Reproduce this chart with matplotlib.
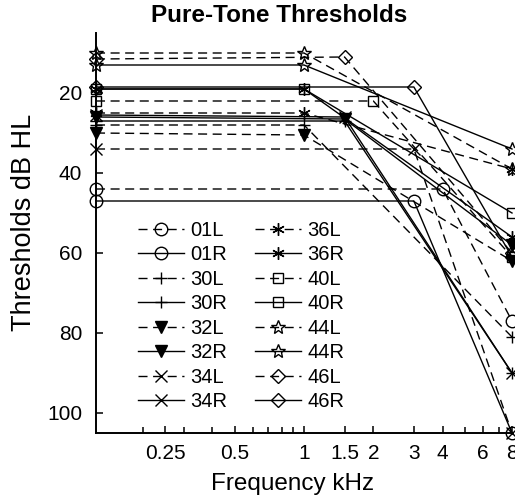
import matplotlib
matplotlib.use("Agg")
import matplotlib.pyplot as plt
import matplotlib.ticker as mticker
import numpy as np

# frequencies (kHz) at which thresholds were measured
FREQS = [0.125, 1, 1.5, 2, 3, 4, 8]
NA = np.nan

# thresholds (dB HL) per ear, NaN = not plotted
T_01L = [44, NA, NA, NA, NA, 44, 77]
T_01R = [47, NA, NA, NA, 47, NA, 105]
T_30L = [28, 28, NA, NA, NA, NA, 81]
T_30R = [27, NA, 27, NA, NA, NA, 90]
T_32L = [30, 30.5, NA, NA, NA, NA, 62]
T_32R = [26, NA, 26.5, NA, NA, NA, 58]
T_34L = [34, NA, NA, NA, 34, NA, 105]
T_34R = [25.5, NA, 26, NA, NA, NA, 90]
T_36L = [25, 25, NA, NA, NA, NA, 39]
T_36R = [19, 19, NA, NA, NA, NA, 56]
T_40L = [22, NA, NA, 22, NA, NA, 61]
T_40R = [19, 19, NA, NA, NA, NA, 50]
T_44L = [10, 10, NA, NA, NA, NA, 39]
T_44R = [13, 13, NA, NA, NA, NA, 34]
T_46L = [11.5, NA, 11, NA, NA, NA, 60]
T_46R = [18.5, NA, NA, NA, 18.5, NA, 61]

LABELS = ["01L", "01R", "30L", "30R", "32L", "32R", "34L", "34R",
          "36L", "36R", "40L", "40R", "44L", "44R", "46L", "46R"]
SERIES = [T_01L, T_01R, T_30L, T_30R, T_32L, T_32R, T_34L, T_34R,
          T_36L, T_36R, T_40L, T_40R, T_44L, T_44R, T_46L, T_46R]
ASTERISK = (6, 2, 0)
MARKERS = ["o", "o", "+", "+", "v", "v", "x", "x",
           ASTERISK, ASTERISK, "s", "s", "*", "*", "D", "D"]

XTICKS = [0.25, 0.5, 1, 1.5, 2, 3, 4, 6, 8]
XTICKLABELS = ["0.25", "0.5", "1", "1.5", "2", "3", "4", "6", "8"]
YTICKS = [20, 40, 60, 80, 100]

plt.rcParams.update({
    "font.family": ["Liberation Sans", "DejaVu Sans"],
    "lines.scale_dashes": False,
})

fig = plt.figure(figsize=(5.15, 4.99), dpi=100)
ax = fig.add_axes([96 / 515, 66 / 499, 416 / 515, 400 / 499])

x = np.array(FREQS)
for lab, vals, mk in zip(LABELS, SERIES, MARKERS):
    y = np.array(vals, dtype=float)
    m = ~np.isnan(y)
    dashed = lab.endswith("L")
    ls = (0, (6.5, 4)) if dashed else "-"
    filled = mk == "v"
    if mk == "*":
        ms = 10.5
    elif mk in ("D", "s"):
        ms = 7.5
    else:
        ms = 9
    ax.plot(x[m], y[m], linestyle=ls, color="black", lw=1.0,
            marker=mk, markersize=ms,
            markerfacecolor="black" if filled else "none",
            markeredgecolor="black", markeredgewidth=1.0,
            clip_on=False, label=lab)

ax.set_xscale("log")
ax.set_xlim(0.125, 8)
ax.set_ylim(105, 5)
ax.set_xticks(XTICKS)
ax.set_xticklabels(XTICKLABELS)
ax.xaxis.set_minor_locator(mticker.LogLocator(base=10, subs=np.arange(2, 10) / 10 * 10 / 10 * 1.0, numticks=20))
ax.xaxis.set_minor_formatter(mticker.NullFormatter())
ax.set_yticks(YTICKS)
ax.tick_params(axis="both", which="both", direction="in", labelsize=15,
               width=1.1, color="black")
ax.tick_params(axis="x", which="major", length=5, pad=8)
ax.tick_params(axis="x", which="minor", length=4)
ax.tick_params(axis="y", length=5, pad=10)

for s in ("top", "right"):
    ax.spines[s].set_visible(False)
for s in ("left", "bottom"):
    ax.spines[s].set_linewidth(1.4)

fig.text(279 / 515, 1 - 15 / 499, "Pure-Tone Thresholds", ha="center",
         va="center", fontsize=17.5, fontweight="bold")
fig.text(293 / 515, 1 - 484 / 499, "Frequency kHz", ha="center",
         va="center", fontsize=17.5)
fig.text(24 / 515, 1 - 222 / 499, "Thresholds dB HL", ha="center",
         va="center", fontsize=19.5, rotation=90)

leg = ax.legend(ncol=2, loc="upper left", bbox_to_anchor=(0.1, 0.53),
                frameon=False, fontsize=14.5, handlelength=2.3,
                handletextpad=0.3, columnspacing=1.4, labelspacing=0.27,
                borderaxespad=0, borderpad=0)

fig.savefig("out.png", dpi=100, facecolor="white")
